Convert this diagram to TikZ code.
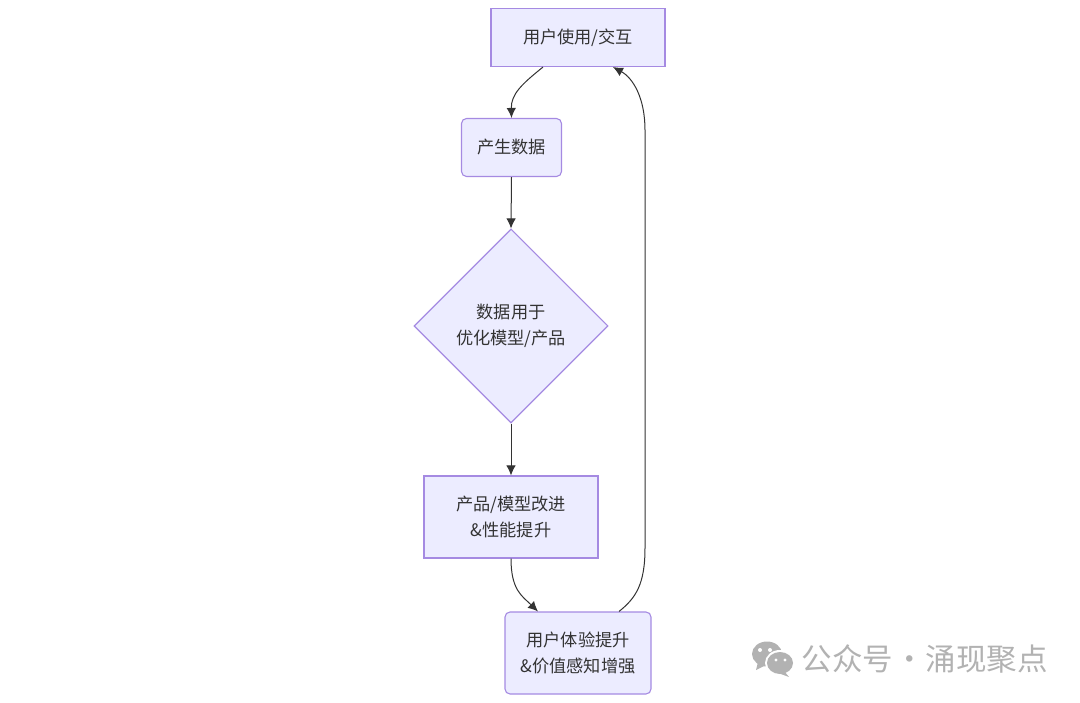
\documentclass[tikz,border=0pt]{standalone}
\usepackage{fontspec}
\usepackage{xcolor}
\setmainfont{Noto Sans CJK SC}
\usetikzlibrary{arrows.meta,shapes.geometric}
\definecolor{flowlilac}{HTML}{ECECFF}
\definecolor{flowpurple}{HTML}{A58AE2}
\definecolor{flowgray}{HTML}{333333}
\definecolor{markgray}{HTML}{B2B2B2}
\tikzset{
    flowbox/.style={draw=flowpurple,fill=flowlilac,line width=1.1pt,text=flowgray,align=center,inner sep=0pt,font=\fontsize{17.2}{26}\selectfont},
    roundbox/.style={flowbox,rounded corners=5pt},
    flowedge/.style={-{Latex[length=10pt,width=9.5pt]},line width=1pt,flowgray}
}

\begin{document}
\begin{tikzpicture}[x=1pt,y=-1pt]
    \useasboundingbox (0,0) rectangle (1080,703);
    \node[flowbox,minimum width=174pt,minimum height=58pt] (usenode) at (578,37.5) {用户使用/交互};
    \node[roundbox,minimum width=100pt,minimum height=58pt] (datanode) at (511.5,147.5) {产生数据};
    \node[flowbox,diamond,minimum width=194pt,minimum height=194pt] (decide) at (511,326) {数据用于\\优化模型/产品};
    \node[flowbox,minimum width=174pt,minimum height=82pt] (improve) at (511,517) {产品/模型改进\\\&性能提升};
    \node[roundbox,minimum width=146pt,minimum height=82pt] (value) at (578,653) {用户体验提升\\\&价值感知增强};
    \draw[flowedge] ([xshift=-35pt]usenode.south) .. controls (522,84) and (511,94) .. (datanode.north);
    \draw[flowedge] (datanode.south) -- (decide.north);
    \draw[flowedge] (decide.south) -- (improve.north);
    \draw[flowedge] (improve.south) .. controls (511,590) and (522,596) .. ([xshift=-40pt]value.north);
    \draw[flowedge] ([xshift=41pt]value.north) .. controls (636,598) and (645,584) .. (645,548)
        -- (645,130) .. controls (645,98) and (633,78) .. ([xshift=35pt]usenode.south);
    \fill[markgray] (767,654) ellipse (15pt and 12.5pt);
    \fill[markgray] (758,662) -- (756,670) -- (766,665) -- cycle;
    \fill[white] (780,663) ellipse (15pt and 13pt);
    \fill[markgray] (780,663) ellipse (13pt and 11pt);
    \fill[markgray] (784,671) -- (789,677) -- (778,673) -- cycle;
    \foreach \x/\y in {760/650,770/650}
        \fill[white] (\x,\y) circle (2pt);
    \foreach \x/\y in {776/660,785/660}
        \fill[white] (\x,\y) circle (1.6pt);
    \node[anchor=west,inner sep=0pt,text=markgray,font=\fontsize{30.5}{32}\selectfont] (markname) at (801.5,659) {公众号\hspace{1pt}·\hspace{1pt}涌现聚点};
\end{tikzpicture}
\end{document}
